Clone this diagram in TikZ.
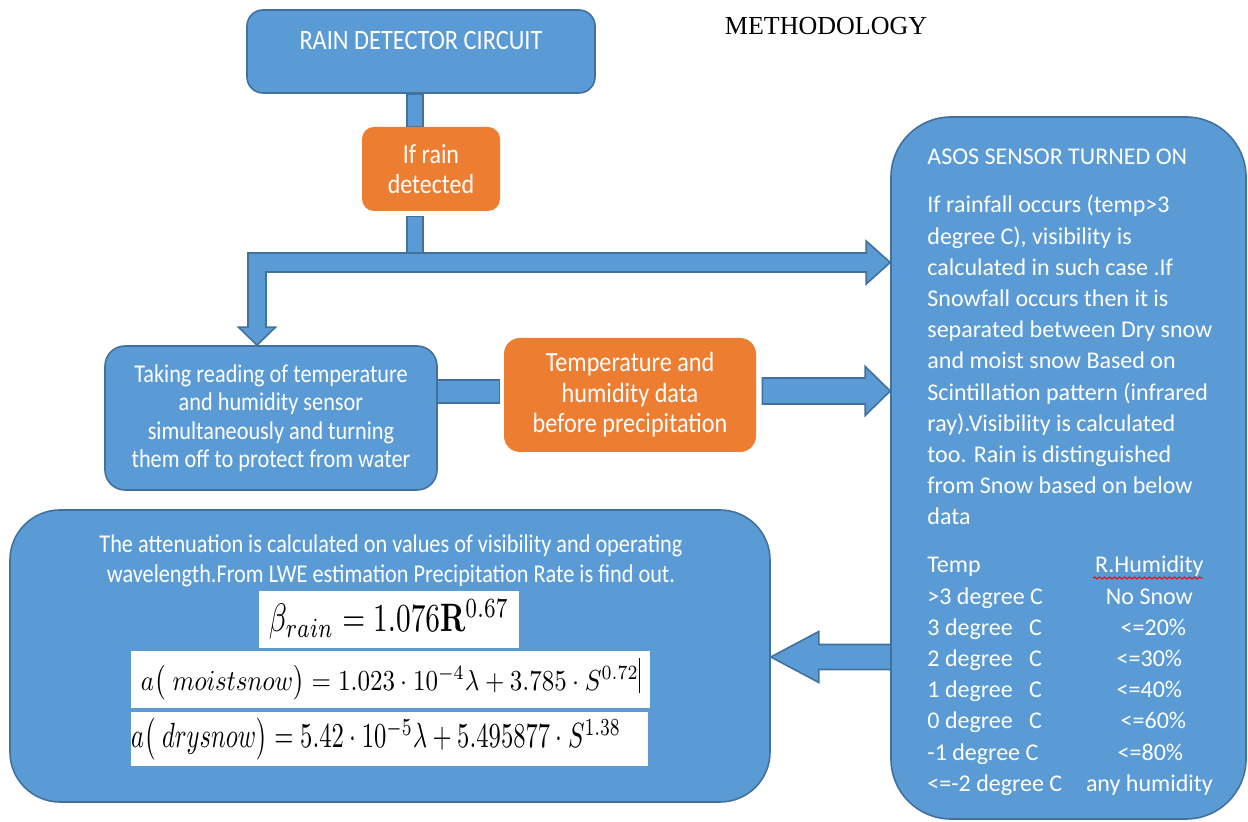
\documentclass[tikz,border=0pt]{standalone}
\usepackage[no-math]{fontspec}
\usepackage{graphicx}
\setmainfont{Carlito}
\newfontfamily\cf[FakeStretch=0.87]{Carlito}
\newfontfamily\titlefont{Liberation Serif}
\usetikzlibrary{backgrounds,calc,decorations.pathmorphing}
\definecolor{bfill}{HTML}{5B9BD5}
\definecolor{bline}{HTML}{41719C}
\definecolor{ofill}{HTML}{ED7D31}
\tikzset{
  bluebox/.style={draw=bline, line width=0.8pt, fill=bfill, rounded corners=#1, text=white, align=center, inner sep=0pt},
  bluebox/.default=8pt,
  orangebox/.style={fill=ofill, rounded corners=#1, text=white, align=center, inner sep=0pt},
  orangebox/.default=6pt,
  eqbox/.style={fill=white, inner sep=0pt, text=black},
  bar/.style={draw=bline, line width=0.8pt, fill=bfill, line join=miter},
}
\begin{document}
\begin{tikzpicture}[x=0.5pt,y=-0.5pt]
\useasboundingbox (0,0) rectangle (1248,822);

\node[font=\titlefont\fontsize{13}{15}\selectfont] (title) at (826,26) {METHODOLOGY};

\node[bluebox=8pt, minimum width=174pt, minimum height=41.5pt, font=\cf\fontsize{14}{17}\selectfont, text depth=11.5pt] (rain) at (421,51.5) {RAIN DETECTOR CIRCUIT};

\node[orangebox=6pt, minimum width=69pt, minimum height=42pt, font=\cf\fontsize{13.75}{15}\selectfont] (ifrain) at (431,169) {If rain\\detected};

\node[bluebox=10pt, minimum width=166pt, minimum height=72pt, font=\cf\fontsize{12.8}{14.25}\selectfont] (reading) at (271,418) {Taking reading of temperature\\and humidity sensor\\simultaneously and turning\\them off to protect from water};

\node[orangebox=8pt, minimum width=126pt, minimum height=57pt, font=\cf\fontsize{13.9}{15.25}\selectfont] (data) at (630,395) {Temperature and\\humidity data\\before precipitation};

\node[bluebox=30pt, minimum width=177.5pt, minimum height=351pt] (asos) at (1068.5,468) {};

\node[bluebox=25pt, minimum width=380pt, minimum height=146pt] (calc) at (390,656) {};

\node[font=\cf\fontsize{12.8}{15}\selectfont, text=white, align=center, inner sep=0pt] (calctext) at (391,561) {The attenuation is calculated on values of visibility and operating\\wavelength.From LWE estimation Precipitation Rate is find out.};

\node[eqbox, minimum width=130pt, minimum height=28.5pt] (eqrain) at (389,619.5) {\resizebox*{120pt}{20pt}{$\beta_{rain} = 1.076\mathbf{R}^{0.67}$}};

\node[eqbox, minimum width=259.5pt, minimum height=28.5pt] (eqmoist) at (390.5,679.5) {\resizebox*{249.5pt}{21pt}{$a\bigl(\;moistsnow\bigr) = 1.023\cdot 10^{-4}\mathrm{\lambda} + 3.785\cdot S^{0.72}$\rule[-1pt]{0.5pt}{12pt}}};

\node[eqbox, minimum width=258.5pt, minimum height=27pt] (eqdry) at (389.5,739) {\makebox[258.5pt][l]{\resizebox*{245pt}{21pt}{$a\bigl(\;drysnow\bigr) = 5.42\cdot 10^{-5}\mathrm{\lambda} + 5.495877\cdot S^{1.38}$}}};

\node[anchor=base west, inner sep=0pt, text=white, font=\fontsize{12}{15.6}\selectfont] (asostext) at (927,165) {\parbox[t]{170pt}{\raggedright
ASOS SENSOR TURNED ON\\[8.4pt]
If rainfall occurs (temp>3\\
degree C), visibility is\\
calculated in such case .If\\
Snowfall occurs then it is\\
separated between Dry snow\\
and moist snow Based on\\
Scintillation pattern (infrared\\
ray).Visibility is calculated\\
too. Rain is distinguished\\
from Snow based on below\\
data\\[8.4pt]
\makebox[76pt][l]{Temp}\makebox[70pt][c]{R.Humidity}\\
\makebox[76pt][l]{>3 degree C}\makebox[70pt][c]{No Snow}\\
\makebox[76pt][l]{3 degree\ \ \ C}\makebox[70pt][c]{\hspace*{4pt}<=20\%}\\
\makebox[76pt][l]{2 degree\ \ \ C}\makebox[70pt][c]{<=30\%}\\
\makebox[76pt][l]{1 degree\ \ \ C}\makebox[70pt][c]{<=40\%}\\
\makebox[76pt][l]{0 degree\ \ \ C}\makebox[70pt][c]{\hspace*{4pt}<=60\%}\\
\makebox[76pt][l]{-1 degree C}\makebox[70pt][c]{\hspace*{1pt}<=80\%}\\
\makebox[76pt][l]{<=-2 degree C}\makebox[70pt][c]{any humidity}}};

\draw[red, line width=0.5pt, decorate, decoration={snake, amplitude=0.5pt, segment length=2.5pt}] (1093,578) -- (1203,578);

\begin{pgfonlayer}{background}
\fill[white] (0,0) rectangle (1248,822);
\coordinate (vx) at (415,0);
\coordinate (split) at (257,262.5);
% rain -> if rain
\draw[bar] ($(vx |- rain.south)+(-8,0)$) rectangle ($(vx |- ifrain.north)+(8,0)$);
% if rain -> split
\draw[bar] ($(vx |- ifrain.south)+(-8,5)$) rectangle ($(vx |- split)+(8,-9.5)$);
% bent arrow to ASOS and to reading
\coordinate (tipA) at (asos.west |- split);
\coordinate (tipB) at (split |- reading.north);
\draw[bar] ($(split)+(-9,-9.5)$) -- ($(tipA)+(-24,-9.5)$) -- ($(tipA)+(-24,-21.5)$) -- (tipA) -- ($(tipA)+(-24,21.5)$) -- ($(tipA)+(-24,9.5)$) -- ($(split)+(9,9.5)$) -- ($(tipB)+(9,-18)$) -- ($(tipB)+(18.5,-18)$) -- (tipB) -- ($(tipB)+(-18.5,-18)$) -- ($(tipB)+(-9,-18)$) -- cycle;
% reading -> data
\draw[bar] ($(reading.east)+(-2,-38)$) rectangle ($(data.west)+(-4,8)$);
% data -> asos
\coordinate (tipC) at ($(asos.west |- data.east)+(0,-4)$);
\draw[bar] ($(data.east)+(6,-17)$) -- ($(tipC)+(-25,-13)$) -- ($(tipC)+(-25,-24.5)$) -- (tipC) -- ($(tipC)+(-25,24.5)$) -- ($(tipC)+(-25,13)$) -- ($(data.east)+(6,9)$) -- cycle;
% asos -> calc
\coordinate (tipD) at ($(calc.east)+(0,1)$);
\draw[bar] (tipD) -- ($(tipD)+(48,-25.5)$) -- ($(tipD)+(48,-12.5)$) -- ($(asos.west |- tipD)+(2,-12.5)$) -- ($(asos.west |- tipD)+(2,12.5)$) -- ($(tipD)+(48,12.5)$) -- ($(tipD)+(48,25.5)$) -- cycle;
\end{pgfonlayer}
\end{tikzpicture}
\end{document}
